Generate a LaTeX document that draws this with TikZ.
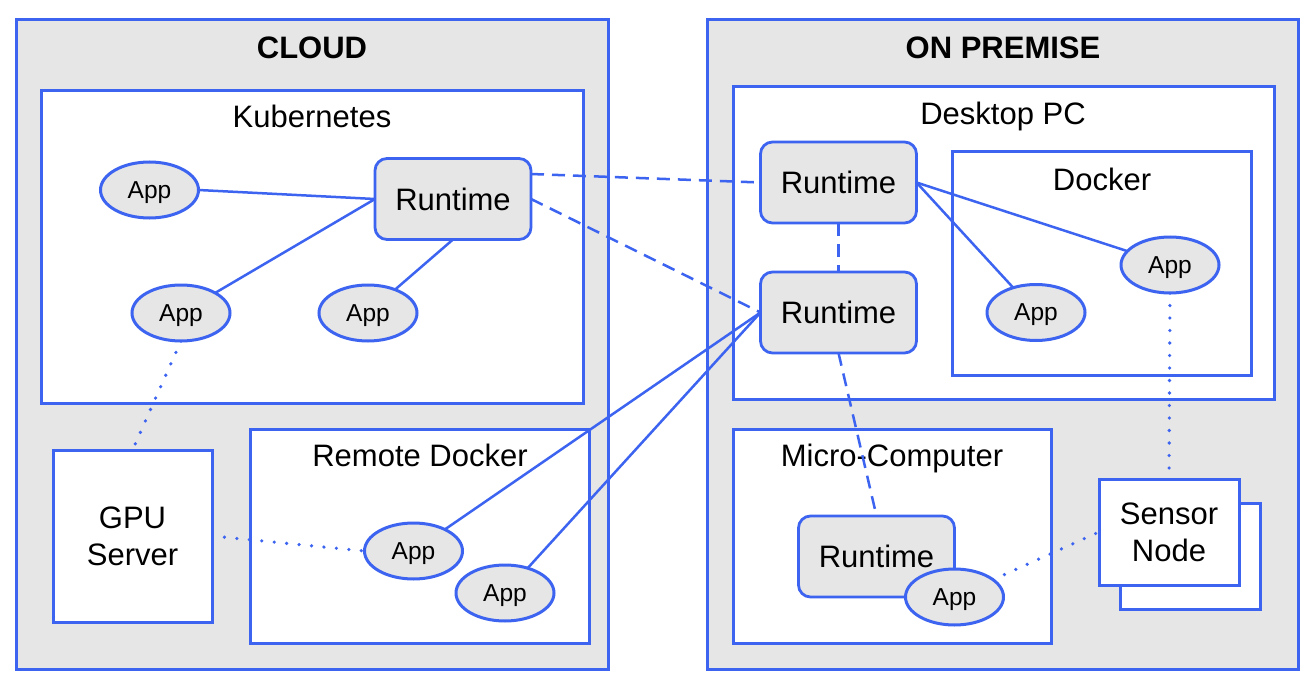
\documentclass[tikz,border=0pt]{standalone}
\usepackage{fontspec}
\setmainfont{Liberation Sans}
\usetikzlibrary{shapes.geometric,calc}
\definecolor{bl}{RGB}{60,100,240}
\definecolor{gr}{RGB}{230,230,230}
\pgfdeclarelayer{bg}
\pgfdeclarelayer{edges}
\pgfsetlayers{bg,edges,main}
\newcommand{\bigfont}{\fontsize{31}{37}\selectfont}
\newcommand{\appfont}{\fontsize{24.5}{28}\selectfont}
\tikzset{
  region/.style={draw=bl, line width=3pt, fill=gr, anchor=north west, inner sep=0pt, outer sep=0pt},
  container/.style={draw=bl, line width=3pt, fill=white, anchor=north west, inner sep=0pt, outer sep=0pt},
  plainbox/.style={draw=bl, line width=3pt, fill=white, inner sep=0pt, outer sep=0pt, align=center, font=\bigfont},
  rt/.style={draw=bl, line width=2.8pt, fill=gr, rounded corners=12pt, minimum width=156pt, minimum height=81pt, inner sep=0pt, outer sep=0pt, font=\bigfont},
  app/.style={ellipse, draw=bl, line width=3pt, fill=gr, minimum width=98pt, minimum height=56pt, inner sep=0pt, outer sep=0pt, text depth=0pt, font=\appfont},
  ttl/.style={anchor=base, font=\bigfont, inner sep=0pt},
  bttl/.style={anchor=base, font=\bigfont\bfseries, inner sep=0pt},
  link/.style={draw=bl, line width=2.5pt},
  dsh/.style={link, dash pattern=on 13pt off 8pt},
  dotl/.style={link, line cap=round, dash pattern=on 0pt off 12.5pt, line width=3.6pt}
}
\begin{document}
\begin{tikzpicture}[x=1pt,y=-1pt]
\useasboundingbox (0,0) rectangle (1311,687);
\begin{pgfonlayer}{bg}
  % regions
  \node[region, minimum width=592pt, minimum height=649pt] (cloud) at (16,20) {};
  \node[region, minimum width=591pt, minimum height=649pt] (prem) at (707,20) {};
  % containers
  \node[container, minimum width=542pt, minimum height=312pt] (k8s) at (41,91) {};
  \node[container, minimum width=339pt, minimum height=214pt] (rdock) at (250,429) {};
  \node[container, minimum width=541pt, minimum height=312pt] (desk) at (733,87) {};
  \node[container, minimum width=299pt, minimum height=223pt] (dock) at (952,152) {};
  \node[container, minimum width=318pt, minimum height=214pt] (micro) at (733,429) {};
  % titles
  \node[bttl] (tcloud) at (312,59) {CLOUD};
  \node[bttl] (tprem) at (1003,59) {ON PREMISE};
  \node[ttl] (tk8s) at (312,128) {Kubernetes};
  \node[ttl] (trdock) at (420,466) {Remote Docker};
  \node[ttl] (tdesk) at (1003,125) {Desktop PC};
  \node[ttl] (tdock) at (1102,190) {Docker};
  \node[ttl] (tmicro) at (892,466) {Micro-Computer};
\end{pgfonlayer}

% GPU server
\node[plainbox, minimum width=159pt, minimum height=172pt] (gpu) at (132.5,536) {GPU\\Server};
% Sensor node (stacked)
\node[plainbox, minimum width=140pt, minimum height=106pt] (sensorback) at (1190,556) {};
\node[plainbox, minimum width=140pt, minimum height=106pt] (sensor) at (1169,532) {Sensor\\Node};

% runtimes
\node[rt] (rtk) at (453,199) {Runtime};
\node[rt] (rt1) at (838.5,182.5) {Runtime};
\node[rt] (rt2) at (838.5,312.5) {Runtime};
\node[rt] (rtm) at (876.5,556.5) {Runtime};

% apps
\node[app] (ka1) at (149.5,190) {App};
\node[app] (ka2) at (181,313) {App};
\node[app] (ka3) at (368,313) {App};
\node[app] (ra1) at (413.5,551) {App};
\node[app] (ra2) at (505,593) {App};
\node[app] (da1) at (1170,265) {App};
\node[app] (pa1) at (1036,312.5) {App};
\node[app] (ma1) at (954.5,597) {App};

\begin{pgfonlayer}{edges}
  \draw[link] (ka1.east) -- (rtk.west);
  \draw[link] (ka2) -- (rtk.west);
  \draw[link] (ka3) -- (rtk.south);
  \draw[dsh] ($(rtk.east)+(0,-25)$) -- (rt1.west);
  \draw[dsh] (rtk.east) -- (rt2.west);
  \draw[link] (ra1) -- (rt2.west);
  \draw[link] (ra2) -- (rt2.west);
  \draw[dotl] (ka2.south) -- (gpu.north);
  \draw[dotl] (gpu.east) -- (ra1.west);
  \draw[dsh] (rt1.south) -- (rt2.north);
  \draw[dsh] (rt2.south) -- (rtm.north);
  \draw[link] (rt1.east) -- (da1);
  \draw[link] (rt1.east) -- (pa1);
  \draw[dotl] (da1.south) -- (sensor.north);
  \draw[dotl] (ma1) -- (sensor.west);
\end{pgfonlayer}
\end{tikzpicture}
\end{document}
